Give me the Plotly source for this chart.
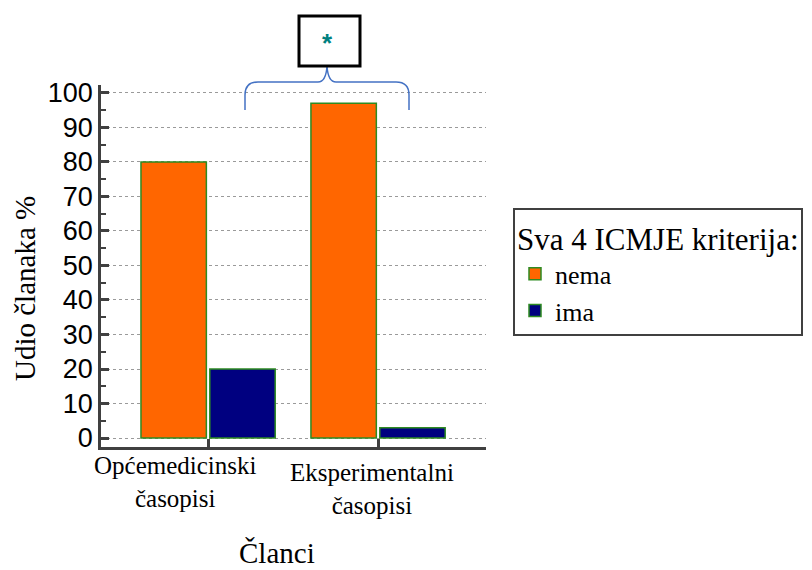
import plotly.graph_objects as go

# ---- data ----
categories = ["Općemedicinski<br>časopisi", "Eksperimentalni<br>časopisi"]
series_names = ["nema", "ima"]
nema_values = [80, 97]
ima_values = [20, 3]
y_ticks = [0, 10, 20, 30, 40, 50, 60, 70, 80, 90, 100]
x_title = "Članci"
y_title = "Udio članaka %"
legend_title = "Sva 4 ICMJE kriterija:"

# page is drawn with an 8px body margin -> figure is 8px smaller and offset
OFF = 8
PW, PH = 812, 570
L, R, T, B = 101, 486, 85, 447  # plot area in page pixels


def px(x):
    return (x - L) / (R - L)


def py(y):
    return (B - y) / (B - T)


serif = "Liberation Serif"
sans = "Liberation Sans"

fig = go.Figure()
fig.add_trace(go.Bar(
    x=list(range(len(categories))), y=nema_values, name=series_names[0],
    marker=dict(color="#FF6600", line=dict(color="#2E8B22", width=1.5)),
))
fig.add_trace(go.Bar(
    x=list(range(len(categories))), y=ima_values, name=series_names[1],
    marker=dict(color="#000080", line=dict(color="#2E8B22", width=1.5)),
))

fig.update_layout(
    width=PW - OFF, height=PH - OFF,
    margin=dict(l=L - OFF, r=PW - R, t=T - OFF, b=PH - B, pad=0, autoexpand=False),
    paper_bgcolor="white", plot_bgcolor="white",
    barmode="group", bargap=0.19, bargroupgap=0.05,
    showlegend=True,
    legend=dict(
        x=px(513), y=py(208), xanchor="left", yanchor="top",
        bgcolor="white", bordercolor="#404040", borderwidth=2,
        font=dict(family=serif, size=26, color="black"),
        title=dict(text=legend_title, font=dict(family=serif, size=31, color="black")),
        tracegroupgap=0,
    ),
    xaxis=dict(
        tickmode="array", tickvals=list(range(len(categories))),
        ticktext=["" for _ in categories],
        range=[-0.63, 1.635],
        showline=True, linecolor="#404040", linewidth=2.5,
        ticks="inside", ticklen=8, tickwidth=2.5, tickcolor="#404040",
        showgrid=False, zeroline=False,
    ),
    yaxis=dict(
        range=[-2.6, 102.3], tickmode="array", tickvals=y_ticks,
        showline=True, linecolor="#404040", linewidth=2.5,
        ticks="inside", ticklen=8, tickwidth=2.5, tickcolor="#404040",
        tickfont=dict(family=sans, size=27, color="black"),
        showgrid=True, gridcolor="#9a9a9a", griddash="dot", gridwidth=1,
        zeroline=False,
        minor=dict(dtick=5, tick0=0, ticks="inside", ticklen=5, tickwidth=1.5,
                   tickcolor="#404040", showgrid=False),
    ),
)

# category labels (placed as in the reference, slightly off the ticks)
label_shift = [-33, -6]
label_y = [py(482), py(489)]
for i, lab in enumerate(categories):
    fig.add_annotation(xref="x", yref="paper", x=i, y=label_y[i], xshift=label_shift[i],
                       text=lab, showarrow=False, xanchor="center", yanchor="middle",
                       font=dict(family=serif, size=25, color="black"))

# axis titles
fig.add_annotation(xref="paper", yref="paper", x=px(277), y=py(553), text=x_title,
                   showarrow=False, xanchor="center", yanchor="middle",
                   font=dict(family=serif, size=29, color="black"))
fig.add_annotation(xref="paper", yref="paper", x=px(25), y=py(289), text=y_title,
                   textangle=-90, showarrow=False, xanchor="center", yanchor="middle",
                   font=dict(family=serif, size=29, color="black"))

# significance bracket
brace = (
    f"M {px(245)},{py(110)} L {px(245)},{py(95)} Q {px(245)},{py(82)} {px(258)},{py(82)} "
    f"L {px(318)},{py(82)} Q {px(326)},{py(82)} {px(327)},{py(66)} "
    f"Q {px(328)},{py(82)} {px(336)},{py(82)} L {px(396)},{py(82)} "
    f"Q {px(409)},{py(82)} {px(409)},{py(95)} L {px(409)},{py(110)}"
)
fig.add_shape(type="path", xref="paper", yref="paper", path=brace,
              line=dict(color="#4472C4", width=1.5))
fig.add_shape(type="rect", xref="paper", yref="paper",
              x0=px(299), x1=px(360), y0=py(66), y1=py(16),
              line=dict(color="black", width=3), fillcolor="white")
fig.add_annotation(xref="paper", yref="paper", x=px(327), y=py(43),
                   text="<b>*</b>", showarrow=False, xanchor="center", yanchor="middle",
                   font=dict(family=sans, size=26, color="#008080"))

fig.write_html("out.html")
